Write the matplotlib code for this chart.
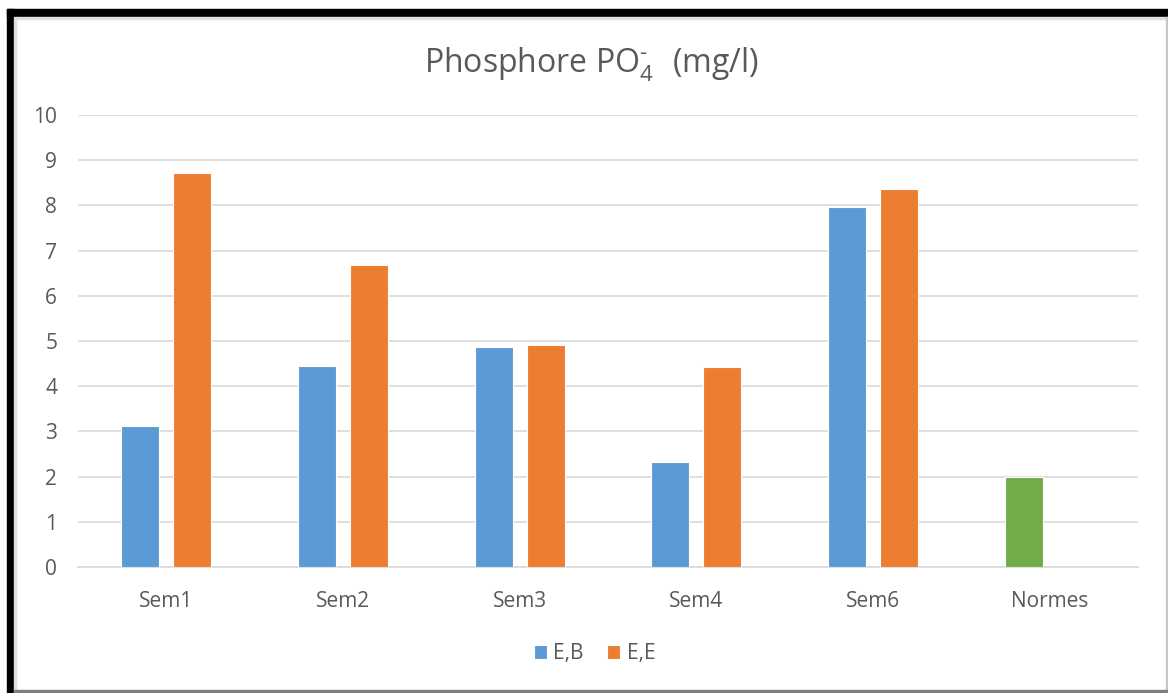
import numpy as np
import matplotlib
matplotlib.use("Agg")
import matplotlib.pyplot as plt
from matplotlib.patches import Rectangle

plt.rcParams['font.family'] = ['Open Sans', 'DejaVu Sans']
plt.rcParams['mathtext.fontset'] = 'custom'
plt.rcParams['mathtext.rm'] = 'Open Sans'
plt.rcParams['mathtext.default'] = 'regular'

# data
categories = ["Sem1", "Sem2", "Sem3", "Sem4", "Sem6", "Normes"]
eb = [3.11, 4.44, 4.86, 2.33, 7.97, 2.0]
ee = [8.71, 6.68, 4.91, 4.43, 8.36, np.nan]
yticks = list(range(0, 11))

blue = "#5B9BD5"
orange = "#ED7D31"
green = "#70AD47"
txt = "#595959"
grid = "#D9D9D9"

fig = plt.figure(figsize=(11.68, 6.93), dpi=100)
ax = fig.add_axes([78/1168, 1 - 567/693, (1138-78)/1168, (567-115)/693])

x = np.arange(len(categories))
w = 0.215
off = 0.147
eb_colors = [blue] * (len(categories) - 1) + [green]
ax.bar(x - off, eb, w, color=eb_colors, edgecolor="white", linewidth=0.8, label="E,B", zorder=3)
ax.bar(x + off, ee, w, color=orange, edgecolor="white", linewidth=0.8, label="E,E", zorder=3)

ax.set_xlim(-0.5, len(categories) - 0.5)
ax.set_ylim(0, 10)
ax.set_yticks(yticks)
ax.set_xticks(x)
ax.set_xticklabels(categories)
ax.yaxis.grid(True, color=grid, linewidth=1.2, zorder=0)
ax.set_axisbelow(True)
for s in ["top", "right", "left"]:
    ax.spines[s].set_visible(False)
ax.spines["bottom"].set_color(grid)
ax.spines["bottom"].set_linewidth(1.2)
ax.tick_params(axis="both", length=0, labelsize=15, labelcolor=txt)
ax.tick_params(axis="y", pad=15)
ax.tick_params(axis="x", pad=17)

fig.text(0.506, 0.907, r"Phosphore PO$_4^{\text{-}}\ $ (mg/l)", ha="center", va="center",
         fontsize=23, color=txt)

# legend only for the two series (blue / orange)
h, l = ax.get_legend_handles_labels()
fig.legend(h, l, loc="center", bbox_to_anchor=(0.509, 0.057), ncol=2, frameon=False,
           fontsize=15, labelcolor=txt, handlelength=0.65, handleheight=0.65,
           handletextpad=0.3, columnspacing=1.1)

# screenshot frame
W, H = 1168, 693
fig.patches.append(Rectangle((7/W, 0), 7/W, 1 - 9/H, transform=fig.transFigure, color="black"))
fig.patches.append(Rectangle((7/W, 1 - 17/H), 1 - 7/W, 8/H, transform=fig.transFigure, color="black"))
fig.patches.append(Rectangle((14/W, 1 - 19/H), 1 - 14/W, 2/H, transform=fig.transFigure, color="#E0E0E0"))
fig.patches.append(Rectangle((14/W, 0), 2/W, 1 - 19/H, transform=fig.transFigure, color="#E0E0E0"))
fig.patches.append(Rectangle((1 - 2/W, 0), 2/W, 1 - 17/H, transform=fig.transFigure, color="#C8C8C8"))
fig.patches.append(Rectangle((14/W, 0), 1 - 14/W, 3/H, transform=fig.transFigure, color="#7F7F7F"))

fig.savefig("out.png", dpi=100)
